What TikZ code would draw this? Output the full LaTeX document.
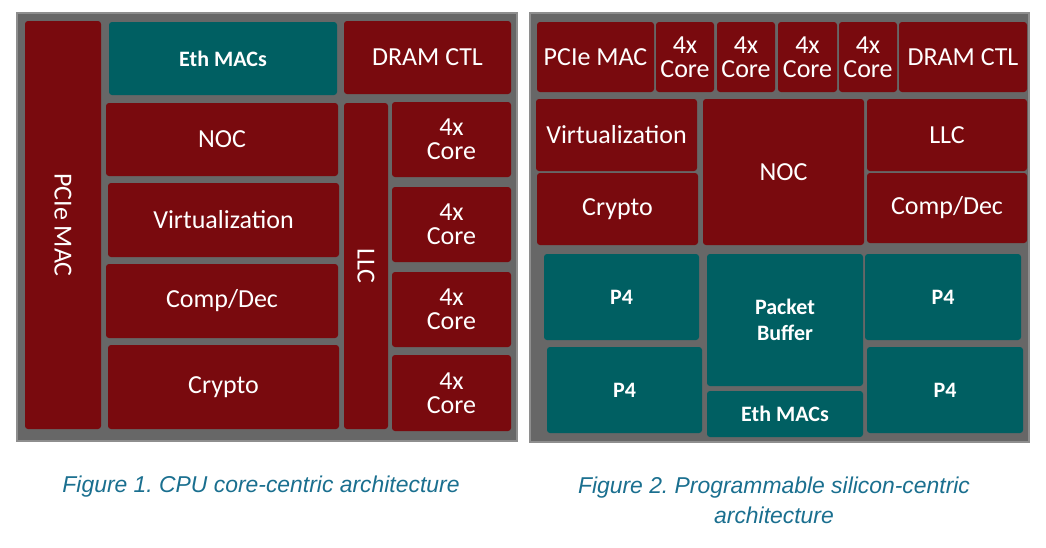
\documentclass[tikz,border=0pt]{standalone}
\usepackage{fontspec}
\setmainfont{Carlito}
\newfontfamily\capfont{Liberation Sans}
\usetikzlibrary{fit}
\frenchspacing

\definecolor{chipred}{HTML}{790A0E}
\definecolor{chipteal}{HTML}{005F62}
\definecolor{chipgray}{HTML}{676767}
\definecolor{rimgray}{HTML}{8E8E8E}
\definecolor{capblue}{HTML}{1A6F8F}

\tikzset{
  panel/.style={fill=chipgray, draw=rimgray, line width=1.5pt},
  blk/.style={inner sep=0pt, rounded corners=3pt},
  redblk/.style={blk, fill=chipred},
  tealblk/.style={blk, fill=chipteal},
  lbl/.style={text=white, align=center, inner sep=0pt, font=\fontsize{26}{24}\selectfont},
  boldlbl/.style={lbl, font=\fontsize{22}{26}\selectfont\bfseries},
  caption/.style={text=capblue, align=center, font=\capfont\itshape\fontsize{22.9}{30}\selectfont}
}

\begin{document}
\begin{tikzpicture}[x=1pt, y=-1pt]
  \useasboundingbox (0,0) rectangle (1046,547);

  % CPU core-centric
  \draw[panel] (17,13) rectangle (517,441);
  \node[redblk, fit={(25,21) (101,429)}, label={[lbl, rotate=-90]center:PCIe MAC}] (lpcie) {};
  \node[tealblk, fit={(109,22) (337,95)}, label={[boldlbl]center:Eth MACs}] (leth) {};
  \node[redblk, fit={(344,21) (511,94)}, label={[lbl]center:DRAM CTL}] (ldram) {};
  \node[redblk, fit={(106,103) (338,176)}, label={[lbl]center:NOC}] (lnoc) {};
  \node[redblk, fit={(108,183) (339,257)}, label={[lbl]center:Virtualization}] (lvirt) {};
  \node[redblk, fit={(106,264) (338,338)}, label={[lbl]center:Comp/Dec}] (lcomp) {};
  \node[redblk, fit={(108,345) (339,429)}, label={[lbl]center:Crypto}] (lcrypto) {};
  \node[redblk, fit={(344,103) (388,429)}, label={[lbl, rotate=-90]center:LLC}] (lllc) {};
  \foreach \i/\a/\b in {1/102/177, 2/187/262, 3/272/347, 4/355/431}
    \node[redblk, fit={(392,\a) (511,\b)}, label={[lbl]center:4x\\Core}] (lcore\i) {};

  % programmable silicon-centric
  \draw[panel] (530,13) rectangle (1029,442);
  \node[redblk, fit={(537,22) (654,92)}, label={[lbl]center:PCIe MAC}] (rpcie) {};
  \foreach \i/\a/\b in {1/656/714, 2/717/775, 3/778/837, 4/839/897}
    \node[redblk, fit={(\a,22) (\b,92)}, label={[lbl]center:4x\\Core}] (rcore\i) {};
  \node[redblk, fit={(899,22) (1027,92)}, label={[lbl]center:DRAM CTL}] (rdram) {};
  \node[redblk, fit={(536,99) (697,171)}, label={[lbl]center:Virtualization}] (rvirt) {};
  \node[redblk, fit={(537,173) (698,245)}, label={[lbl]center:Crypto}] (rcrypto) {};
  \node[redblk, fit={(703,99) (864,245)}, label={[lbl]center:NOC}] (rnoc) {};
  \node[redblk, fit={(867,99) (1027,171)}, label={[lbl]center:LLC}] (rllc) {};
  \node[redblk, fit={(867,173) (1027,243)}, label={[lbl]center:Comp/Dec}] (rcomp) {};
  \node[tealblk, fit={(544,254) (699,340)}, label={[boldlbl]center:P4}] (rp4a) {};
  \node[tealblk, fit={(547,347) (702,433)}, label={[boldlbl]center:P4}] (rp4b) {};
  \node[tealblk, fit={(707,254) (863,386)}, label={[boldlbl]center:Packet\\Buffer}] (rbuf) {};
  \node[tealblk, fit={(707,391) (863,437)}, label={[boldlbl]center:Eth MACs}] (reth) {};
  \node[tealblk, fit={(865,254) (1021,340)}, label={[boldlbl]center:P4}] (rp4c) {};
  \node[tealblk, fit={(867,347) (1023,433)}, label={[boldlbl]center:P4}] (rp4d) {};

  % captions
  \node[caption] (cap1) at (261,487) {Figure 1. CPU core-centric architecture};
  \node[caption, anchor=north] (cap2) at (774,473) {Figure 2. Programmable silicon-centric\\architecture};
\end{tikzpicture}
\end{document}
